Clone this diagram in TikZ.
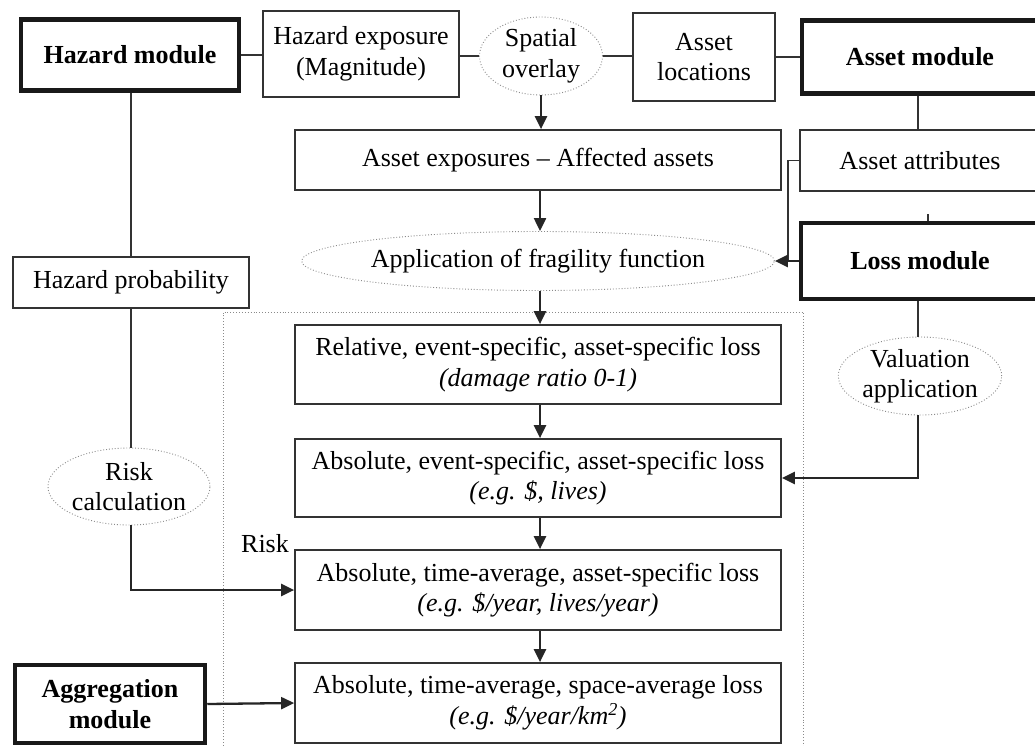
\documentclass[tikz,border=0pt]{standalone}
\usepackage{fontspec}
\setmainfont{Liberation Serif}
\usetikzlibrary{shapes.geometric,arrows.meta}
\definecolor{ln}{HTML}{333333}
\definecolor{dotc}{HTML}{8A8A8A}
\begin{document}
\begin{tikzpicture}[x=1pt,y=-1pt,
  every node/.style={font=\fontsize{26}{30.5}\selectfont, inner sep=0pt, align=center, text=black},
  box/.style={draw=ln, line width=1.7pt, rectangle},
  modbox/.style={draw=black!90, line width=4.5pt, rectangle, font=\fontsize{26}{30.5}\selectfont\bfseries},
  ell/.style={draw=dotc, line width=0.9pt, dotted, ellipse},
  conn/.style={draw=ln, line width=1.7pt},
  arr/.style={draw=black!85, line width=2.3pt, -{Triangle[length=13pt,width=12pt]}}
]
\clip (0,0) rectangle (1035,746);
\useasboundingbox (0,0) rectangle (1035,746);
\fill[white] (0,0) rectangle (1035,746);

% dotted frame
\draw[dotc, line width=0.9pt, dotted] (223,760) -- (223,312) -- (803,312) -- (803,760);

% top row
\node[modbox, minimum width=218pt, minimum height=71pt] (hazmod) at (130,55) {Hazard module};
\node[box, minimum width=196pt, minimum height=86pt] (hazexp) at (361,54) {Hazard exposure\\(Magnitude)};
\node[ell, minimum width=123pt, minimum height=78pt] (spatial) at (541,56) {Spatial\\overlay};
\node[box, minimum width=142pt, minimum height=88pt] (assetloc) at (704,57) {Asset\\locations};
\node[modbox, minimum width=236pt, minimum height=73pt] (assetmod) at (920,57) {Asset module};

% second row
\node[box, minimum width=486pt, minimum height=60pt] (assetexp) at (538,160) {Asset exposures -- Affected assets};
\node[box, minimum width=240pt, minimum height=61pt] (assetattr) at (920,160.5) {Asset attributes};

% third row
\node[ell, minimum width=380pt, minimum height=59pt] (frag) at (538,261) {Application of fragility function};
\node[modbox, minimum width=238pt, minimum height=76pt] (lossmod) at (920,261) {Loss module};
\node[box, minimum width=236pt, minimum height=51pt] (hazprob) at (131,282.5) {Hazard probability};

% loss chain
\node[box, minimum width=486pt, minimum height=79pt] (relative) at (538,364.5) {Relative, event-specific, asset-specific loss\\\textit{(damage ratio 0-1)}};
\node[box, minimum width=486pt, minimum height=78pt] (absevent) at (538,478) {Absolute, event-specific, asset-specific loss\\\textit{(e.g. \$, lives)}};
\node[box, minimum width=486pt, minimum height=80pt] (timeavg) at (538,590) {Absolute, time-average, asset-specific loss\\\textit{(e.g. \$/year, lives/year)}};
\node[box, minimum width=486pt, minimum height=80pt] (spaceavg) at (538,703) {Absolute, time-average, space-average loss\\\textit{(e.g. \$/year/km\textsuperscript{2})}};

\node[ell, minimum width=154pt, minimum height=78pt] (valuation) at (920,376) {Valuation\\application};
\node[ell, minimum width=162pt, minimum height=77pt] (riskcalc) at (129,486.5) {Risk\\calculation};
\node (risk) at (265,544) {Risk};
\node[modbox, minimum width=190pt, minimum height=78pt] (aggmod) at (110,704) {Aggregation\\module};

% connectors
\draw[conn] (hazmod.east) -- (hazexp.west |- hazmod.east);
\draw[conn] (hazexp.east |- spatial.west) -- (spatial.west);
\draw[conn] (spatial.east) -- (assetloc.west |- spatial.east);
\draw[conn] (assetloc.east |- assetmod.west) -- (assetmod.west);
\draw[conn] ([xshift=-2pt]assetmod.south) -- ([xshift=-2pt]assetattr.north);
\coordinate (tick) at (928,214);
\draw[conn] (tick) -- (tick |- lossmod.north);

\draw[conn] (hazmod.south -| hazprob.north) -- (hazprob.north);
\draw[conn] (hazprob.south) -- (hazprob.south |- riskcalc.north);

\draw[arr] (spatial.south) -- (spatial.south |- assetexp.north);
\draw[arr] ([xshift=2pt]assetexp.south) -- ([xshift=2pt]frag.north);
\draw[arr] ([xshift=2pt]frag.south) -- ([xshift=2pt]relative.north);
\draw[arr] ([xshift=2pt]relative.south) -- ([xshift=2pt]absevent.north);
\draw[arr] ([xshift=2pt]absevent.south) -- ([xshift=2pt]timeavg.north);
\draw[arr] ([xshift=2pt]timeavg.south) -- ([xshift=2pt]spaceavg.north);

\coordinate (join) at (788,261);
\draw[conn] (assetattr.west) -| (join);
\draw[arr] (lossmod.west) -- (frag.east);

\draw[conn] ([xshift=-2pt]lossmod.south) -- ([xshift=-2pt]valuation.north);
\draw[arr] ([xshift=-2pt]valuation.south) |- (absevent.east);

\draw[arr] ([xshift=2pt]riskcalc.south) |- (timeavg.west);
\draw[arr] (aggmod.east) -- (spaceavg.west);
\end{tikzpicture}
\end{document}
